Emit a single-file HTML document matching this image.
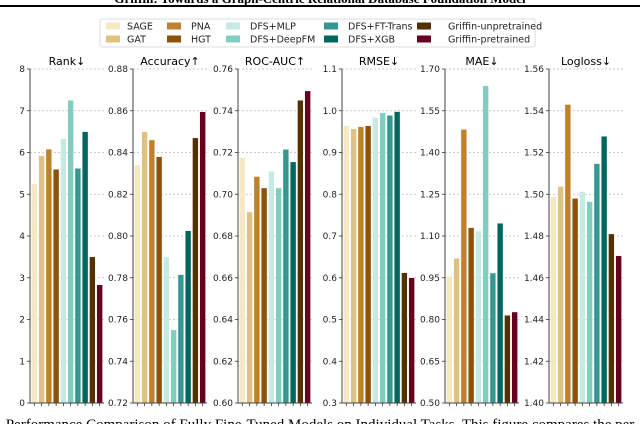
<!DOCTYPE html>
<html><head><meta charset="utf-8"><style>
body{margin:0;background:#fff;width:640px;height:424px;overflow:hidden;font-family:"DejaVu Sans","Liberation Sans",sans-serif}
svg{display:block}
</style></head><body>
<svg id="c" width="640" height="424" xmlns="http://www.w3.org/2000/svg">
<text x="320" y="3" text-anchor="middle" font-family="Liberation Serif,serif" font-weight="bold" font-size="13">Griffin: Towards a Graph-Centric Relational Database Foundation Model</text>
<rect x="0" y="5" width="640" height="2" fill="#000"/>
<text x="320" y="429" text-anchor="middle" font-family="Liberation Serif,serif" font-size="15">Performance Comparison of Fully Fine-Tuned Models on Individual Tasks. This figure compares the per</text>
</svg>
<script>
const models=["SAGE","GAT","PNA","HGT","DFS+MLP","DFS+DeepFM","DFS+FT-Trans","DFS+XGB","Griffin-unpretrained","Griffin-pretrained"];
const colors=["#f6e8c3","#dfc27d","#bf812d","#8c510a","#c7eae5","#80cdc1","#35978f","#01665e","#543005","#67001f"];
const titles=["Rank↓","Accuracy↑","ROC-AUC↑","RMSE↓","MAE↓","Logloss↓"];
const rankVals=[5.25,5.92,6.08,5.6,6.33,7.25,5.62,6.5,3.5,2.83];
const accVals=[0.834,0.850,0.846,0.838,0.790,0.755,0.7815,0.8025,0.847,0.8595];
const rocVals=[0.7175,0.6915,0.7085,0.703,0.711,0.703,0.7215,0.7155,0.745,0.7495];
const rmseVals=[0.964,0.957,0.962,0.964,0.984,0.995,0.989,0.998,0.612,0.600];
const maeVals=[0.955,1.020,1.483,1.130,1.118,1.640,0.967,1.146,0.815,0.827];
const loglossVals=[1.4988,1.5037,1.543,1.498,1.5013,1.4965,1.5147,1.5278,1.481,1.4705];
const rankTicks=["0","1","2","3","4","5","6","7","8"];
const accTicks=["0.72","0.74","0.76","0.78","0.80","0.82","0.84","0.86","0.88"];
const rocTicks=["0.60","0.62","0.64","0.66","0.68","0.70","0.72","0.74","0.76"];
const rmseTicks=["0.3","0.4","0.5","0.6","0.7","0.8","0.9","1.0","1.1"];
const maeTicks=["0.50","0.65","0.80","0.95","1.10","1.25","1.40","1.55","1.70"];
const loglossTicks=["1.40","1.42","1.44","1.46","1.48","1.50","1.52","1.54","1.56"];
const NS="http://www.w3.org/2000/svg";
const svg=document.getElementById('c');
function mk(t,a,p){const e=document.createElementNS(NS,t);for(const k in a)e.setAttribute(k,a[k]);(p||svg).appendChild(e);return e;}
const series=[rankVals,accVals,rocVals,rmseVals,maeVals,loglossVals];
const ticks=[rankTicks,accTicks,rocTicks,rmseTicks,maeTicks,loglossTicks];
const lefts=[30,133,238,342,445,549];
const PW=74,yTop=69,yBot=403;
series.forEach((vals,pi)=>{
  const g=mk('g',{});
  
  
  const tk=ticks[pi].map(Number),lo=tk[0],hi=tk[tk.length-1];
  const L=lefts[pi];
  const y=v=>yBot-(v-lo)/(hi-lo)*(yBot-yTop);
  const x=i=>L+(i+0.6)/10.2*PW;
  ticks[pi].forEach((t,ti)=>{
    const yy=y(tk[ti]);
    const gl=mk('line',{x1:L,x2:L+PW,y1:yy,y2:yy,stroke:'#bbb','stroke-width':0.8,'stroke-dasharray':'2,2'},g);
    
    
    mk('line',{x1:L-3,x2:L,y1:yy,y2:yy,stroke:'#333','stroke-width':0.8},g);
    const tl=mk('text',{x:L-5,y:yy+3,'text-anchor':'end','font-size':9,fill:'#222'},g);
    tl.textContent=t;
    
    
  });
  vals.forEach((v,i)=>{
    const cx=x(i),bw=0.8/10.2*PW;
    const r=mk('rect',{x:cx-bw/2,y:y(v),width:bw,height:yBot-y(v),fill:colors[i],stroke:'#fff','stroke-width':0.4},g);
    
    
    mk('line',{x1:cx,x2:cx,y1:yBot,y2:yBot+3,stroke:'#333','stroke-width':0.8},g);
  });
  mk('line',{x1:L,x2:L,y1:yTop,y2:yBot,stroke:'#444','stroke-width':1},g);
  mk('line',{x1:L,x2:L+PW,y1:yBot,y2:yBot,stroke:'#444','stroke-width':1},g);
  const tt=mk('text',{x:L+PW/2,y:65,'text-anchor':'middle','font-size':11,fill:'#000'},g);
  tt.textContent=titles[pi];
  
  
});
const lg=mk('g',{});


mk('rect',{x:100,y:19,width:435,height:28,rx:2,fill:'#fff',stroke:'#ddd','stroke-width':1},lg);
const px=[106,167,226,324,417],tx=[127,191,250,348,448];
models.forEach((m,i)=>{
  const c=Math.floor(i/2),r=i%2,yy=r?39:26;
  const e=mk('g',{},lg);
  
  
  mk('rect',{x:px[c],y:yy-3.5,width:14,height:7,fill:colors[i]},e);
  const t=mk('text',{x:tx[c],y:yy+3.5,'font-size':9.5,fill:'#222'},e);
  t.textContent=m;
});
</script>
</body></html>
